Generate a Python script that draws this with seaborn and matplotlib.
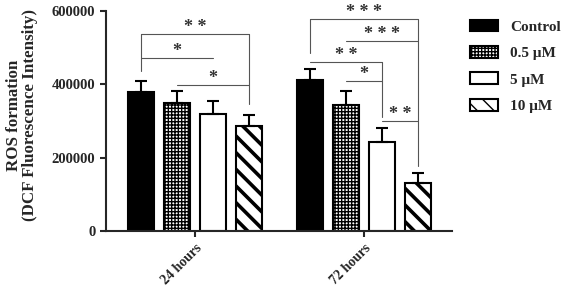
import numpy as np
import pandas as pd
import seaborn as sns
import matplotlib.pyplot as plt

times = ['24 hours', '72 hours']
treatments = ['Control', '0.5 \u03bcM', '5 \u03bcM', '10 \u03bcM']
means_24h = [379000, 349000, 319000, 286000]
means_72h = [412000, 343000, 243000, 131000]
err_24h = [30000, 33000, 36000, 30000]
err_72h = [30000, 39000, 38000, 27000]

# significance brackets: (time index, bar a, bar b, line y, leg bottom a, leg bottom b, stars)
brackets = [
    (0, 0, 3, 537000, 436000, 346000, '* *'),
    (0, 0, 2, 472000, None, None, '*'),
    (0, 1, 3, 398000, None, None, '*'),
    (1, 0, 3, 578000, 485000, 177000, '* * *'),
    (1, 1, 3, 518000, None, None, '* * *'),
    (1, 0, 2, 461000, None, 311000, '* *'),
    (1, 1, 2, 409000, None, None, '*'),
    (1, 2, 3, 300000, None, None, '* *'),
]

df = pd.DataFrame({
    'time': np.repeat(times, 4),
    'treatment': treatments * 2,
    'ros': means_24h + means_72h,
})
errs = [err_24h, err_72h]

sns.set_style('ticks')
plt.rcParams['font.family'] = ['Liberation Serif', 'DejaVu Serif']
plt.rcParams['font.weight'] = 'bold'

fig = plt.figure(figsize=(5.63, 2.88), dpi=100)
ax = fig.add_axes([0.188, 0.198, 0.615, 0.764])

pal = {'Control': 'black', '0.5 \u03bcM': 'white', '5 \u03bcM': 'white', '10 \u03bcM': 'white'}
sns.barplot(data=df, x='time', y='ros', hue='treatment', hue_order=treatments,
            palette=pal, edgecolor='black', linewidth=1.5, errorbar=None,
            width=0.85, gap=0.28, legend=False, ax=ax)

hatches = [None, '+++++', None, '\\\\']
hatch_lw = [1, 1.0, 1, 2.6]
for k, cont in enumerate(ax.containers):
    for bar in cont:
        if hatches[k]:
            bar.set_hatch(hatches[k])
            if hasattr(bar, 'set_hatch_linewidth'):
                bar.set_hatch_linewidth(hatch_lw[k])

centers = [[cont[i].get_x() + cont[i].get_width() / 2 for cont in ax.containers] for i in range(2)]
tops = [[cont[i].get_height() for cont in ax.containers] for i in range(2)]

for i in range(2):
    ax.errorbar(centers[i], tops[i], yerr=[np.zeros(4), errs[i]], fmt='none',
                ecolor='black', elinewidth=1.5, capsize=4.3, capthick=1.5, zorder=1)

for g, a, b, y, la, lb, txt in brackets:
    xa, xb = centers[g][a], centers[g][b]
    ax.plot([xa, xb], [y, y], color='#555555', lw=0.8)
    if la is not None:
        ax.plot([xa, xa], [la, y], color='#555555', lw=0.8)
    if lb is not None:
        ax.plot([xb, xb], [lb, y], color='#555555', lw=0.8)
    ax.text((xa + xb) / 2, y - 5000, txt, ha='center', va='bottom', fontsize=13,
            color='#333333')

ax.set_ylim(0, 600000)
ax.set_xlim(-0.527, 1.52)
ax.set_yticks([0, 200000, 400000, 600000])
ax.set_yticklabels(['0', '200000', '400000', '600000'], fontsize=10.5, fontweight='bold')
ax.set_xticks([0, 1])
ax.set_xticklabels(times, rotation=45, ha='right', rotation_mode='anchor',
                   fontsize=10, fontweight='bold')
ax.set_xlabel('')
ax.set_ylabel('ROS formation\n(DCF Fluorescence Intensity)', fontsize=12.2,
              fontweight='bold', linespacing=1.0)
ax.yaxis.set_label_coords(-0.197, 0.527)
ax.tick_params(width=1.5, length=4, direction='out')
sns.despine(ax=ax)
for s in ['left', 'bottom']:
    ax.spines[s].set_linewidth(1.5)

ax.legend(ax.containers, treatments, loc='upper left', bbox_to_anchor=(1.052, 0.96),
          frameon=False, prop={'family': 'Liberation Serif', 'weight': 'bold', 'size': 11},
          borderpad=0, borderaxespad=0, handlelength=1.85, handleheight=0.8,
          labelspacing=0.8, handletextpad=0.75)

fig.savefig('out.png', dpi=100)
